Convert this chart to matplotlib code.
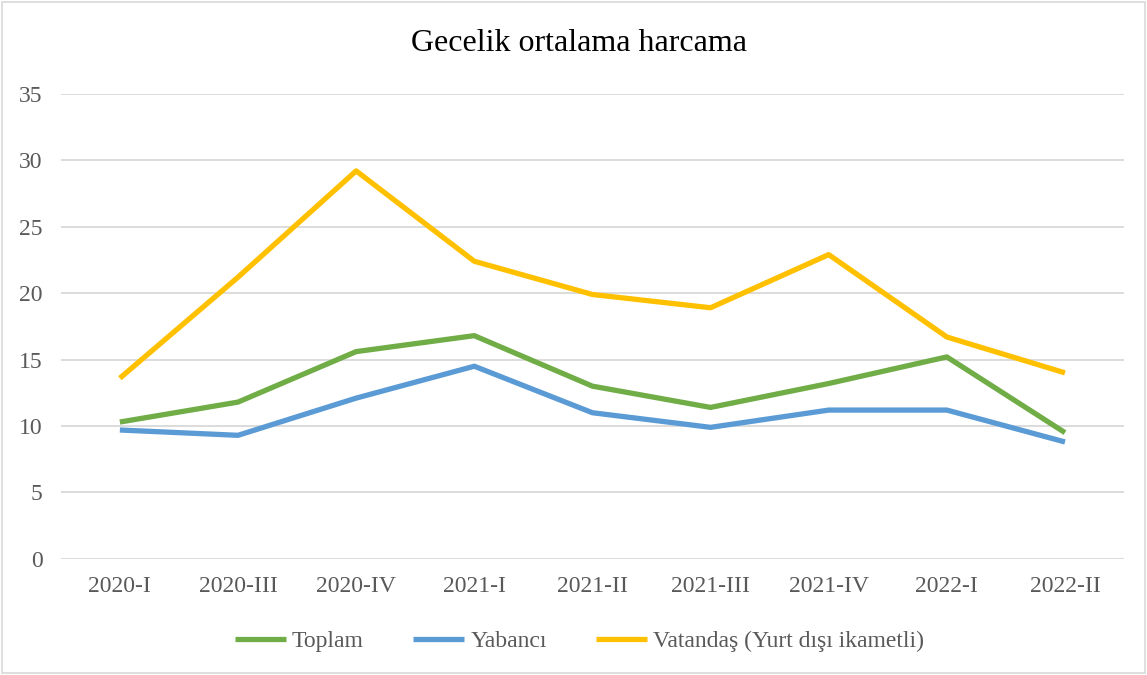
import matplotlib.pyplot as plt
from matplotlib.patches import Rectangle

# data
quarters = ["2020-I", "2020-III", "2020-IV", "2021-I", "2021-II",
            "2021-III", "2021-IV", "2022-I", "2022-II"]
toplam = [10.3, 11.8, 15.6, 16.8, 13.0, 11.4, 13.2, 15.2, 9.5]
yabanci = [9.7, 9.3, 12.1, 14.5, 11.0, 9.9, 11.2, 11.2, 8.8]
vatandas = [13.6, 21.2, 29.2, 22.4, 19.9, 18.9, 22.9, 16.7, 14.0]

plt.rcParams['font.family'] = ['Liberation Serif', 'DejaVu Serif']

fig = plt.figure(figsize=(11.47, 6.75), dpi=100)
ax = fig.add_axes([0.053, 0.172, 0.927, 0.689])

x = range(len(quarters))
ax.plot(x, toplam, color="#70AD47", lw=3.8, label="Toplam", solid_capstyle="butt")
ax.plot(x, yabanci, color="#5B9BD5", lw=3.8, label="Yabancı", solid_capstyle="butt")
ax.plot(x, vatandas, color="#FFC000", lw=3.8, label="Vatandaş (Yurt dışı ikametli)",
        solid_capstyle="butt")

ax.set_xlim(-0.5, len(quarters) - 0.5)
ax.set_ylim(0, 35)
ax.set_yticks(range(0, 36, 5))
ax.set_xticks(list(x))
ax.set_xticklabels(quarters)
ax.grid(axis="y", color="#D9D9D9", lw=1.3)
ax.set_axisbelow(True)
for s in ax.spines.values():
    s.set_visible(False)
ax.tick_params(length=0, labelsize=17, colors="#595959")
ax.tick_params(axis="x", pad=12)
ax.tick_params(axis="y", pad=13)

fig.text(0.505, 0.935, "Gecelik ortalama harcama", ha="center", va="center",
         fontsize=23, color="#000000")

ax.legend(loc="center", bbox_to_anchor=(0.488, -0.178), ncol=3, frameon=False,
          fontsize=17, labelcolor="#595959", handlelength=2.16, columnspacing=2.1,
          handletextpad=0.25)

fig.patches.append(Rectangle((0.002, 0.003), 0.996, 0.994, transform=fig.transFigure,
                             fill=False, edgecolor="#D9D9D9", lw=1.2))

fig.savefig("out.png", dpi=100)
